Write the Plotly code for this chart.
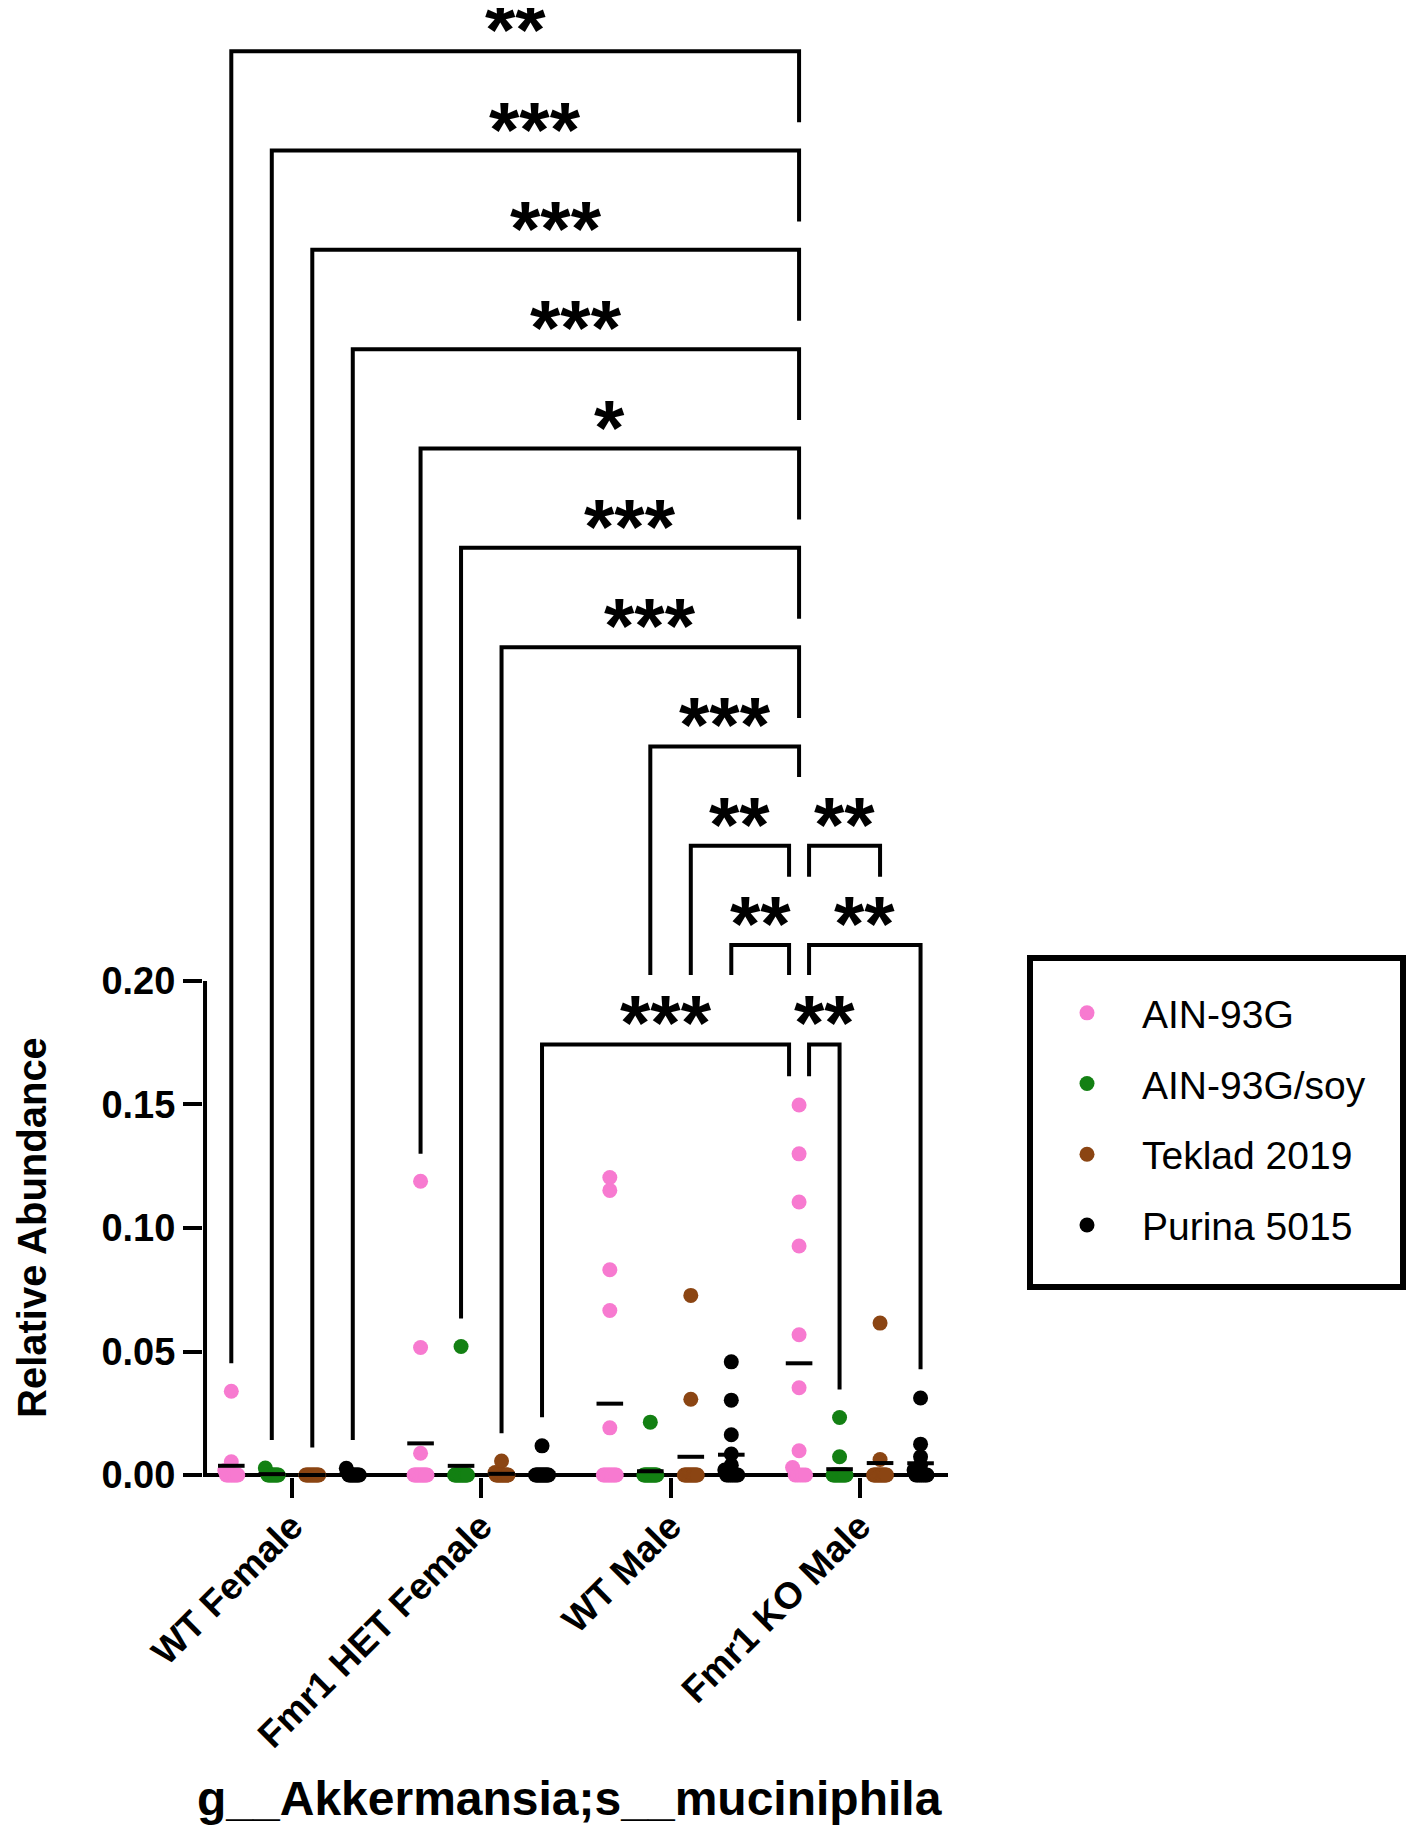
import plotly.graph_objects as go

GROUPS = ["WT Female", "Fmr1 HET Female", "WT Male", "Fmr1 KO Male"]
DIETS = ["AIN-93G", "AIN-93G/soy", "Teklad 2019", "Purina 5015"]
DIET_COLORS = ["#F77AD0", "#138013", "#8B4513", "#000000"]

# relative abundance per animal: one list per group (WT F, HET F, WT M, KO M)
AIN93G = [
    [0.0339, 0.0054, 0.0018, 0, 0, 0, 0, 0, 0, 0, 0],
    [0.1189, 0.0516, 0.0088, 0, 0, 0, 0, 0, 0, 0, 0, 0, 0, 0],
    [0.1204, 0.1152, 0.0831, 0.0666, 0.0191, 0, 0, 0, 0, 0, 0, 0, 0, 0],
    [0.1498, 0.1300, 0.1105, 0.0927, 0.0568, 0.0353, 0.0098, 0.0030, 0, 0, 0, 0, 0],
]
AIN93G_SOY = [
    [0.0028, 0.0012, 0, 0, 0, 0, 0, 0, 0, 0, 0],
    [0.0520, 0, 0, 0, 0, 0, 0, 0, 0, 0, 0, 0, 0, 0],
    [0.0214, 0, 0, 0, 0, 0, 0, 0, 0, 0, 0, 0, 0, 0],
    [0.0233, 0.0074, 0, 0, 0, 0, 0, 0, 0, 0, 0, 0, 0],
]
TEKLAD_2019 = [
    [0, 0, 0, 0, 0, 0, 0, 0, 0, 0, 0],
    [0.0057, 0.0010, 0, 0, 0, 0, 0, 0, 0, 0, 0, 0, 0, 0],
    [0.0727, 0.0307, 0, 0, 0, 0, 0, 0, 0, 0, 0, 0, 0, 0],
    [0.0615, 0.0063, 0, 0, 0, 0, 0, 0, 0, 0, 0, 0, 0, 0],
]
PURINA_5015 = [
    [0.0027, 0.0010, 0, 0, 0, 0, 0, 0, 0, 0, 0],
    [0.0118, 0, 0, 0, 0, 0, 0, 0, 0, 0, 0, 0, 0, 0],
    [0.0458, 0.0303, 0.0163, 0.0085, 0.0040, 0.0020, 0, 0, 0, 0, 0, 0, 0],
    [0.0312, 0.0125, 0.0074, 0.0040, 0.0020, 0, 0, 0, 0, 0, 0, 0],
]
SERIES = [AIN93G, AIN93G_SOY, TEKLAD_2019, PURINA_5015]

# significance brackets: column index = group*4 + diet
BR_LEFT = [0, 1, 2, 3, 4, 5, 6, 9, 10, 12, 11, 12, 7, 12]
BR_RIGHT = [12, 12, 12, 12, 12, 12, 12, 12, 12, 14, 12, 15, 12, 13]
BR_LEFT_SIDE = [0, 0, 0, 0, 0, 0, 0, 0, 0, 1, 0, 1, 0, 1]
BR_RIGHT_SIDE = [0, 0, 0, 0, 0, 0, 0, 0, -1, 0, -1, 0, -1, 0]
BR_LEVEL = [0.5763, 0.5361, 0.4959, 0.4557, 0.4155, 0.3753, 0.3351,
            0.2949, 0.2547, 0.2547, 0.2145, 0.2145, 0.1743, 0.1743]
BR_LEFT_END = [0.0452, 0.0142, 0.0111, 0.0142, 0.1300, 0.0634, 0.0169,
               0.2024, 0.2024, 0.2422, 0.2024, 0.2024, 0.0234, 0.1614]
BR_RIGHT_END = [0.5476, 0.5074, 0.4672, 0.4270, 0.3868, 0.3466, 0.3064,
                0.2825, 0.2422, 0.2422, 0.2024, 0.0428, 0.1614, 0.0346]
BR_LABEL = ["**", "***", "***", "***", "*", "***", "***",
            "***", "**", "**", "**", "**", "***", "**"]

FONT = "Arial, Liberation Sans, sans-serif"
GROUP_STEP = 4.674   # distance between groups, in column widths
NUDGE = 0.247        # side shift of bracket legs sharing a column
X_MIN, X_MAX = -0.699, 17.70
Y_MIN, Y_MAX = -0.0008, 0.5938
AXIS_X = -0.649
PAGE = 8             # the page's own margin round the figure
W, H = 1402, 1819
L, R, T, B = 195, 462, 0, 350


def col_x(col):
    return (col // 4) * GROUP_STEP + col % 4


def spread(values, half=0.16, floor=0.0035):
    # push the points piled on the baseline sideways a little
    low = [i for i, v in enumerate(values) if v < floor]
    offs = [0.0] * len(values)
    n = len(low)
    for k, i in enumerate(low):
        offs[i] = -half + 2 * half * k / (n - 1) if n > 1 else 0.0
    return offs


def px_x(px):
    return (px - PAGE - L) / (W - L - R)


def px_y(px):
    return (H - B - (px - PAGE)) / (H - T - B)


fig = go.Figure()

for d, (name, color, series) in enumerate(zip(DIETS, DIET_COLORS, SERIES)):
    xs, ys = [], []
    for g, vals in enumerate(series):
        x0 = col_x(g * 4 + d)
        for v, o in zip(vals, spread(vals)):
            xs.append(x0 + o)
            ys.append(v)
    fig.add_trace(go.Scatter(
        x=xs, y=ys, mode="markers", name=name, legendgroup=name,
        marker=dict(size=15, color=color, line=dict(width=0)),
        cliponaxis=False, hoverinfo="skip",
    ))

mean_x, mean_y = [], []
for d, series in enumerate(SERIES):
    for g, vals in enumerate(series):
        mean_x.append(col_x(g * 4 + d))
        mean_y.append(sum(vals) / len(vals))
fig.add_trace(go.Scatter(
    x=mean_x, y=mean_y, mode="markers", showlegend=False, hoverinfo="skip",
    marker=dict(symbol="line-ew", size=19, color="black",
                line=dict(width=4, color="black")),
    cliponaxis=False,
))

bx, by = [], []
annotations = []
for i in range(len(BR_LEFT)):
    xl = col_x(BR_LEFT[i]) + BR_LEFT_SIDE[i] * NUDGE
    xr = col_x(BR_RIGHT[i]) + BR_RIGHT_SIDE[i] * NUDGE
    bx += [xl, xl, xr, xr, None]
    by += [BR_LEFT_END[i], BR_LEVEL[i], BR_LEVEL[i], BR_RIGHT_END[i], None]
    # short box: the star sits high in its line, the empty top is trimmed
    annotations.append(dict(
        x=(xl + xr) / 2, y=BR_LEVEL[i], xref="x", yref="y",
        text=BR_LABEL[i], showarrow=False, xanchor="center",
        yanchor="bottom", yshift=-25, height=72, valign="bottom",
        font=dict(family=FONT, size=78, color="black", weight="bold"),
    ))
fig.add_trace(go.Scatter(
    x=bx, y=by, mode="lines", showlegend=False, hoverinfo="skip",
    line=dict(color="black", width=4),
))

annotations.append(dict(
    x=px_x(PAGE), y=0.1, xref="paper", yref="y", text="Relative Abundance",
    textangle=-90, showarrow=False, xanchor="left", yanchor="middle",
    font=dict(family=FONT, size=40, color="black", weight="bold"),
))
annotations.append(dict(
    x=px_x(569), y=px_y(1798), xref="paper", yref="paper",
    text="g__Akkermansia;s__muciniphila", showarrow=False,
    xanchor="center", yanchor="middle",
    font=dict(family=FONT, size=48, color="black", weight="bold"),
))

shapes = [
    dict(type="line", xref="x", yref="y", x0=X_MIN, x1=X_MAX, y0=0, y1=0,
         line=dict(color="black", width=4), layer="below"),
    dict(type="line", xref="x", yref="y", x0=AXIS_X, x1=AXIS_X, y0=0, y1=0.2,
         line=dict(color="black", width=4), layer="below"),
    dict(type="rect", xref="paper", yref="paper",
         x0=px_x(1030), x1=px_x(1403), y0=px_y(1287), y1=px_y(958),
         line=dict(color="black", width=6)),
]

fig.update_layout(
    width=W, height=H,
    margin=dict(l=L, r=R, t=T, b=B),
    paper_bgcolor="white", plot_bgcolor="white",
    font=dict(family=FONT, color="black"),
    annotations=annotations, shapes=shapes,
    legend=dict(
        x=px_x(1032), y=px_y(981), xanchor="left", yanchor="top",
        font=dict(family=FONT, size=39, color="black"),
        itemwidth=100, tracegroupgap=17, borderwidth=0,
        bgcolor="rgba(0,0,0,0)",
    ),
    xaxis=dict(
        range=[X_MIN, X_MAX], showgrid=False, zeroline=False, showline=False,
        tickvals=[g * GROUP_STEP + 1.5 for g in range(len(GROUPS))],
        ticktext=GROUPS, tickangle=-45, ticklabelstandoff=-8,
        ticks="outside", ticklen=20, tickwidth=4, tickcolor="black",
        tickfont=dict(family=FONT, size=37, color="black", weight="bold"),
    ),
    yaxis=dict(
        range=[Y_MIN, Y_MAX], showgrid=False, zeroline=False, showline=False,
        tickvals=[0, 0.05, 0.10, 0.15, 0.20], tickformat=".2f",
        ticks="outside", ticklen=19, tickwidth=4, tickcolor="black",
        tickfont=dict(family=FONT, size=38, color="black", weight="bold"),
    ),
)

fig.write_html("out.html")
